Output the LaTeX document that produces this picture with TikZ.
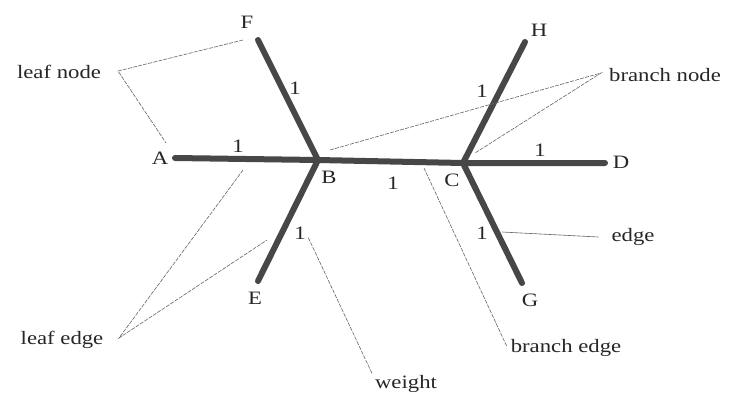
\documentclass[tikz,border=0pt]{standalone}
\usepackage{fontspec}
\setmainfont[FakeStretch=1.2]{Liberation Serif}
\begin{document}
\begin{tikzpicture}[x=1bp,y=-1bp,
  txt/.style={inner sep=0pt,text=black!85,font=\fontsize{19}{21}\selectfont},
  wt/.style={inner sep=0pt,text=black!85,font=\fontsize{19}{21}\selectfont},
  edgeline/.style={line width=6bp,draw=black!72,line cap=round},
  note/.style={draw=black!60,line width=0.6bp,dash pattern=on 4bp off 1.2bp},
  notesolid/.style={draw=black!60,line width=0.6bp}]
\useasboundingbox[fill=white] (0,0) rectangle (736,395);
% tree points
\coordinate (a) at (175,158);
\coordinate (b) at (318,160);
\coordinate (c) at (463,163);
\coordinate (d) at (605,163);
\coordinate (f) at (258,40);
\coordinate (h) at (525,42);
\coordinate (e) at (258,281);
\coordinate (g) at (522,283);
\draw[edgeline] (a) -- (b) -- (c) -- (d);
\draw[edgeline] (f) -- (b) -- (e);
\draw[edgeline] (h) -- (c) -- (g);
% vertex labels
\node[txt] (lA) at (160,158) {A};
\node[txt] (lB) at (329,177) {B};
\node[txt] (lC) at (452,180) {C};
\node[txt] (lD) at (621,162) {D};
\node[txt] (lF) at (247,22) {F};
\node[txt] (lH) at (539,30) {H};
\node[txt] (lE) at (255,298) {E};
\node[txt] (lG) at (530,300) {G};
% weights
\node[wt] (w1) at (238,146) {1};
\node[wt] (w2) at (295,88) {1};
\node[wt] (w3) at (393,183) {1};
\node[wt] (w4) at (482,91) {1};
\node[wt] (w5) at (540,150) {1};
\node[wt] (w6) at (300,233) {1};
\node[wt] (w7) at (482,233) {1};
% annotations
\node[txt] (leafnode) at (59,72) {leaf node};
\node[txt] (branchnode) at (665,75) {branch node};
\node[txt] (edgelab) at (633,237) {edge};
\node[txt] (leafedge) at (62,340) {leaf edge};
\node[txt] (weight) at (406,384) {weight};
\node[txt] (branchedge) at (566,348) {branch edge};
\coordinate (pF) at (243,40);
\coordinate (pA) at (166,143);
\coordinate (pB) at (330,150);
\coordinate (pC) at (475,153);
\coordinate (pG) at (502,232);
\coordinate (pAB) at (243,170);
\coordinate (pBE) at (267,240);
\coordinate (pW) at (308,237);
\coordinate (pBC) at (424,168);
\coordinate (ln) at (118,71);
\coordinate (bn) at (601,73);
\coordinate (le) at (119,338);
\draw[note] (pF) -- (ln) -- (pA);
\draw[note] (pB) -- (bn) -- (pC);
\draw[notesolid] (edgelab.west) ++(-13,0) -- (pG);
\draw[note] (pAB) -- (le) -- (pBE);
\draw[note] (weight.north west) ++(-3,-2) -- (pW);
\draw[note] (branchedge.west) ++(-4,-2) -- (pBC);
\end{tikzpicture}
\end{document}
